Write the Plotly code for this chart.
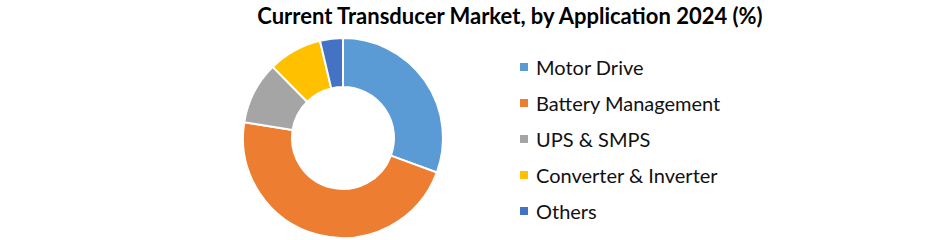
import plotly.graph_objects as go

# ---- data ----
categories = ["Motor Drive", "Battery Management", "UPS & SMPS", "Converter & Inverter", "Others"]
shares = [30.6, 46.9, 10.1, 8.7, 3.7]
colors = ["#5B9BD5", "#ED7D31", "#A5A5A5", "#FFC000", "#4472C4"]
title_text = "Current Transducer Market, by Application 2024 (%)"

W, H = 941, 240

fig = go.Figure()
fig.add_trace(go.Pie(
    labels=categories,
    values=shares,
    sort=False,
    direction="clockwise",
    rotation=0,
    hole=0.51,
    marker=dict(colors=colors, line=dict(color="white", width=2)),
    textinfo="none",
    hoverinfo="label+percent",
    showlegend=False,
    domain=dict(x=[243 / W, 443 / W], y=[2 / H, 202 / H]),
))

# legend built from the category list
legend_x_sq = 520
legend_x_txt = 534
row0 = 67
row_gap = 36
annotations = []
shapes = []
for i, (name, col) in enumerate(zip(categories, colors)):
    yc = row0 + i * row_gap
    shapes.append(dict(type="rect", xref="paper", yref="paper",
                       x0=legend_x_sq / W, x1=(legend_x_sq + 8) / W,
                       y0=1 - (yc + 4) / H, y1=1 - (yc - 4) / H,
                       fillcolor=col, line=dict(width=0)))
    annotations.append(dict(text=name, xref="paper", yref="paper",
                            x=legend_x_txt / W, y=1 - yc / H,
                            xanchor="left", yanchor="middle", showarrow=False,
                            font=dict(family="Lato", size=20, color="#111111")))

fig.update_layout(
    width=W, height=H,
    margin=dict(l=0, r=0, t=0, b=0),
    paper_bgcolor="white",
    plot_bgcolor="white",
    title=dict(text="<b>" + title_text + "</b>", x=510 / W, xanchor="center",
               xref="paper", y=1 - 16 / H, yanchor="middle", yref="container",
               font=dict(family="Lato", size=22, color="#000000")),
    annotations=annotations,
    shapes=shapes,
)

fig.write_html("out.html")
